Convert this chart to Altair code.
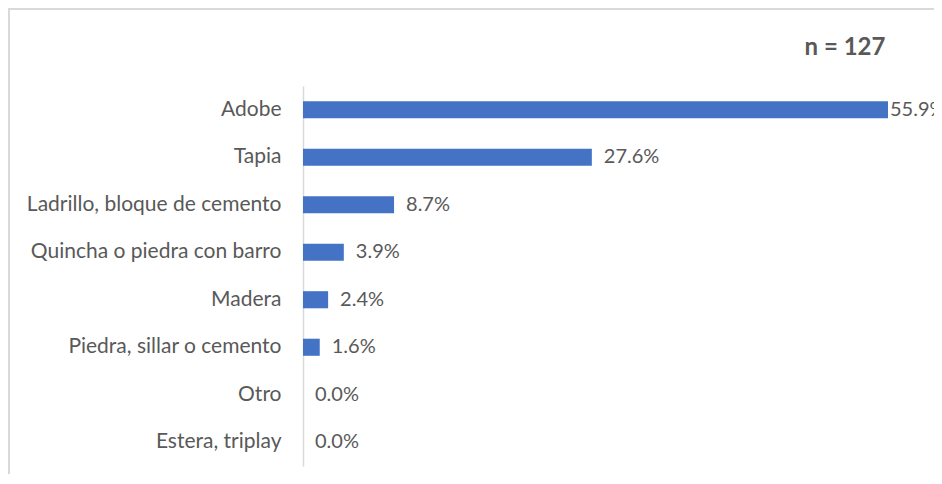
import altair as alt
import pandas as pd

categories = ["Adobe", "Tapia", "Ladrillo, bloque de cemento", "Quincha o piedra con barro",
              "Madera", "Piedra, sillar o cemento", "Otro", "Estera, triplay"]
values = [55.9, 27.6, 8.7, 3.9, 2.4, 1.6, 0.0, 0.0]
labels = ["55.9%", "27.6%", "8.7%", "3.9%", "2.4%", "1.6%", "0.0%", "0.0%"]
n_text = "n = 127"

df = pd.DataFrame({"cat": categories, "val": values, "lab": labels})

FONT = "Lato"
GRAY = "#595959"
W, H = 585, 380

y_enc = alt.Y("cat:N", sort=categories,
              scale=alt.Scale(paddingInner=0.64, paddingOuter=0.32),
              axis=alt.Axis(title=None, ticks=False, domainColor="#d9d9d9", domainWidth=1.5,
                            labelFont=FONT, labelFontSize=21, labelColor=GRAY,
                            labelPadding=22, labelLimit=400, grid=False))
x_enc = alt.X("val:Q", scale=alt.Scale(domain=[0, 55.9], nice=False, zero=True), axis=None)

bars = alt.Chart(df).mark_bar(color="#4472C4").encode(x=x_enc, y=y_enc)
text_rest = alt.Chart(df).transform_filter(alt.datum.val < 50).mark_text(
    align="left", dx=12, font=FONT, fontSize=20, color=GRAY).encode(
    x=x_enc, y=y_enc, text="lab:N")
text_top = alt.Chart(df).transform_filter(alt.datum.val >= 50).mark_text(
    align="left", dx=2, font=FONT, fontSize=20, color=GRAY).encode(
    x=x_enc, y=y_enc, text="lab:N")

ntext = alt.Chart(pd.DataFrame({"t": [n_text]})).mark_text(
    font=FONT, fontSize=24, fontWeight="bold", color=GRAY, align="center", baseline="middle"
).encode(x=alt.value(845 - 303), y=alt.value(48 - 86), text="t:N")

border_top = alt.Chart(pd.DataFrame({"a": [0]})).mark_rule(color="#d9d9d9", strokeWidth=2).encode(
    x=alt.value(-296), x2=alt.value(700), y=alt.value(-77))
border_left = alt.Chart(pd.DataFrame({"a": [0]})).mark_rule(color="#d9d9d9", strokeWidth=2).encode(
    x=alt.value(-294), y=alt.value(-78), y2=alt.value(420))

chart = alt.layer(bars, text_rest, text_top, ntext, border_top, border_left).properties(
    width=W, height=H,
    background="white",
    autosize=alt.AutoSizeParams(type="none"),
    padding={"left": 295, "top": 78, "right": 46, "bottom": 8},
).configure_view(strokeWidth=0)

chart.save("out.html", embed_options={"renderer": "svg", "actions": False})
